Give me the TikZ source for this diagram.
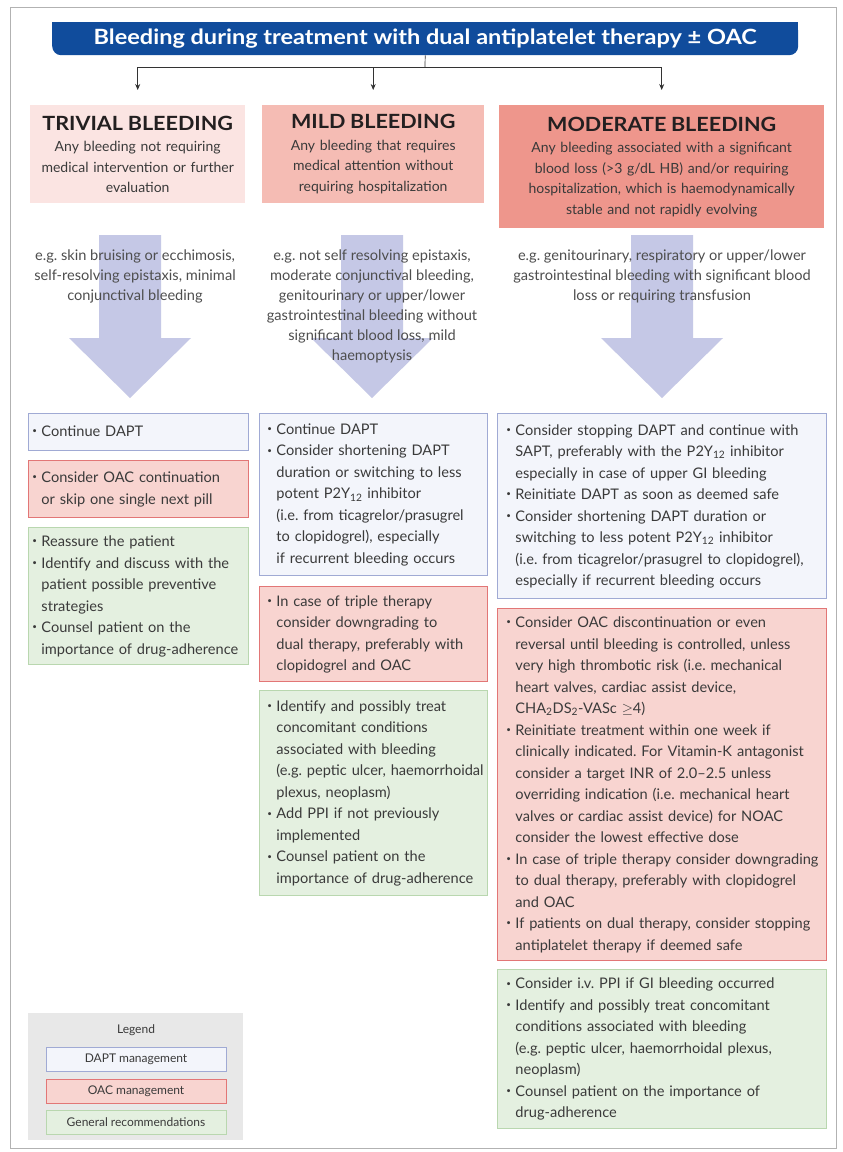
\documentclass[tikz,border=0pt]{standalone}
\usepackage{fontspec}
\setmainfont{Lato}
\newfontfamily\widefont[FakeStretch=1.12]{Lato}
\newfontfamily\hdrfont[FakeStretch=1.10]{Lato}
\usetikzlibrary{arrows.meta}
\definecolor{titleblue}{RGB}{16,76,156}
\definecolor{hdrA}{RGB}{251,228,226}
\definecolor{hdrB}{RGB}{245,188,180}
\definecolor{hdrC}{RGB}{238,150,140}
\definecolor{bigarrow}{RGB}{197,200,230}
\definecolor{daptfill}{RGB}{243,245,251}
\definecolor{daptdraw}{RGB}{160,170,212}
\definecolor{oacfill}{RGB}{248,212,208}
\definecolor{oacdraw}{RGB}{226,118,118}
\definecolor{genfill}{RGB}{228,240,224}
\definecolor{gendraw}{RGB}{185,215,175}
\definecolor{legbg}{RGB}{232,232,232}
\definecolor{txt}{RGB}{58,58,58}
\definecolor{hdrtitle}{RGB}{35,31,32}
\newcommand{\bu}{\makebox[9pt][l]{\raisebox{0.35ex}{\fontsize{8}{8}\selectfont\textbullet}}}
\newcommand{\hind}{\hspace*{9pt}}
\newcommand{\Ptwo}{P2Y\textsubscript{12}}
\newcommand{\blines}[1]{\begin{tabular}{@{}l@{}}#1\end{tabular}}
\frenchspacing
\begin{document}
\begin{tikzpicture}[x=1pt,y=-1pt,
  boxbase/.style={rectangle, anchor=north west, align=left, text=txt, line width=0.9pt,
     font=\fontsize{14.6}{21.5}\selectfont, inner ysep=4pt},
  daptbox/.style={boxbase, draw=daptdraw, fill=daptfill},
  oacbox/.style={boxbase, draw=oacdraw, fill=oacfill},
  genbox/.style={boxbase, draw=gendraw, fill=genfill},
  colA/.style={inner xsep=4pt, text width=212pt},
  colB/.style={inner xsep=8pt, text width=212pt},
  colC/.style={inner xsep=9pt, text width=311pt},
  hdr/.style={rectangle, anchor=north west, align=center, text=txt, inner xsep=1pt,
     font=\fontsize{14}{20.5}\selectfont},
  example/.style={anchor=north, align=center, text=txt!90, font=\fontsize{14.6}{20}\selectfont},
  conn/.style={draw=black!80, line width=0.7pt},
  connarr/.style={conn, -{Stealth[length=6pt,width=5pt]}},
  legsmall/.style={rectangle, minimum width=180pt, minimum height=24pt, line width=0.8pt,
     text=txt, font=\fontsize{12}{14}\selectfont}
]
\useasboundingbox (0,0) rectangle (843,1152);
\fill[white] (0,0) rectangle (843,1152);
\draw[black!30, line width=1pt] (10,7) rectangle (836,1148);

% title bar
\fill[titleblue] (52,22) rectangle (798,40);
\node[rectangle, rounded corners=9pt, fill=titleblue, minimum width=746pt, minimum height=33pt,
  anchor=north west, text=white, font=\widefont\fontsize{21}{24}\selectfont\bfseries] (title) at (52,22)
  {Bleeding during treatment with dual antiplatelet therapy ± OAC};

% headers
\node[hdr, fill=hdrA, text width=213pt, minimum height=98pt] (h1) at (30,105)
  {{\hdrfont\fontsize{19.6}{22}\selectfont\bfseries\color{hdrtitle}TRIVIAL BLEEDING}\\[1pt]
   Any bleeding not requiring\\ medical intervention or further\\ evaluation};
\node[hdr, fill=hdrB, text width=220pt, minimum height=98pt] (h2) at (262,105)
  {{\hdrfont\fontsize{19.6}{22}\selectfont\bfseries\color{hdrtitle}MILD BLEEDING}\\[1pt]
   Any bleeding that requires\\ medical attention without\\ requiring hospitalization\\[4pt]};
\node[hdr, fill=hdrC, text width=323pt, minimum height=123pt] (h3) at (499,105)
  {{\hdrfont\fontsize{19.6}{22}\selectfont\bfseries\color{hdrtitle}MODERATE BLEEDING}\\[1pt]
   Any bleeding associated with a significant\\ blood loss (>3 g/dL HB) and/or requiring\\
   hospitalization, which is haemodynamically\\ stable and not rapidly evolving};

% connectors
\coordinate (jn) at (425,67);
\draw[conn] (title.south) -- (jn);
\draw[conn] (h1.north |- jn) -- (h3.north |- jn);
\draw[connarr] (h1.north |- jn) -- ([yshift=15pt]h1.north);
\draw[connarr] (h2.north |- jn) -- ([yshift=15pt]h2.north);
\draw[connarr] (h3.north |- jn) -- ([yshift=15pt]h3.north);

% big arrows
\foreach \cx in {130,372,662}{
  \fill[bigarrow] (\cx-31,235) -- (\cx+31,235) -- (\cx+31,338) -- (\cx+61,338)
     -- (\cx,398) -- (\cx-61,338) -- (\cx-31,338) -- cycle;
}

% examples
\node[example] (e1) at (135,246) {e.g. skin bruising or ecchimosis,\\ self-resolving epistaxis, minimal\\ conjunctival bleeding};
\node[example] (e2) at (372,246) {e.g. not self resolving epistaxis,\\ moderate conjunctival bleeding,\\ genitourinary or upper/lower\\ gastrointestinal bleeding without\\ significant blood loss, mild\\ haemoptysis};
\node[example] (e3) at (662,246) {e.g. genitourinary, respiratory or upper/lower\\ gastrointestinal bleeding with significant blood\\ loss or requiring transfusion};

% column 1
\node[daptbox, colA, minimum height=37pt] (d1) at (28,413) {\blines{\bu Continue DAPT}};
\node[oacbox, colA, minimum height=57pt] (o1) at (28,460)
  {\blines{\bu Consider OAC continuation\\ \hind or skip one single next pill}};
\node[genbox, colA, minimum height=136pt] (g1) at (28,527)
  {\blines{\bu Reassure the patient\\
   \bu Identify and discuss with the\\
   \hind patient possible preventive\\
   \hind strategies\\
   \bu Counsel patient on the\\
   \hind importance of drug-adherence}};

% column 2
\node[daptbox, colB, minimum height=162pt] (d2) at (259,413)
  {\blines{\bu Continue DAPT\\
   \bu Consider shortening DAPT\\
   \hind duration or switching to less\\
   \hind potent \Ptwo{} inhibitor\\
   \hind (i.e. from ticagrelor/prasugrel\\
   \hind to clopidogrel), especially\\
   \hind if recurrent bleeding occurs}};
\node[oacbox, colB, minimum height=95pt] (o2) at (259,586)
  {\blines{\bu In case of triple therapy\\
   \hind consider downgrading to\\
   \hind dual therapy, preferably with\\
   \hind clopidogrel and OAC}};
\node[genbox, colB, minimum height=205pt] (g2) at (259,690)
  {\blines{\bu Identify and possibly treat\\
   \hind concomitant conditions\\
   \hind associated with bleeding\\
   \hind (e.g. peptic ulcer, haemorrhoidal\\
   \hind plexus, neoplasm)\\
   \bu Add PPI if not previously\\
   \hind implemented\\
   \bu Counsel patient on the\\
   \hind importance of drug-adherence}};

% column 3
\node[daptbox, colC, minimum height=185pt] (d3) at (497,413)
  {\blines{\bu Consider stopping DAPT and continue with\\
   \hind SAPT, preferably with the \Ptwo{} inhibitor\\
   \hind especially in case of upper GI bleeding\\
   \bu Reinitiate DAPT as soon as deemed safe\\
   \bu Consider shortening DAPT duration or\\
   \hind switching to less potent \Ptwo{} inhibitor\\
   \hind (i.e. from ticagrelor/prasugrel to clopidogrel),\\
   \hind especially if recurrent bleeding occurs}};
\node[oacbox, colC, minimum height=352pt] (o3) at (497,608)
  {\blines{\bu Consider OAC discontinuation or even\\
   \hind reversal until bleeding is controlled, unless\\
   \hind very high thrombotic risk (i.e. mechanical\\
   \hind heart valves, cardiac assist device,\\
   \hind CHA\textsubscript{2}DS\textsubscript{2}-VASc $\geq$4)\\
   \bu Reinitiate treatment within one week if\\
   \hind clinically indicated. For Vitamin-K antagonist\\
   \hind consider a target INR of 2.0--2.5 unless\\
   \hind overriding indication (i.e. mechanical heart\\
   \hind valves or cardiac assist device) for NOAC\\
   \hind consider the lowest effective dose\\
   \bu In case of triple therapy consider downgrading\\
   \hind to dual therapy, preferably with clopidogrel\\
   \hind and OAC\\
   \bu If patients on dual therapy, consider stopping\\
   \hind antiplatelet therapy if deemed safe}};
\node[genbox, colC, minimum height=159pt] (g3) at (497,969)
  {\blines{\bu Consider i.v. PPI if GI bleeding occurred\\
   \bu Identify and possibly treat concomitant\\
   \hind conditions associated with bleeding\\
   \hind (e.g. peptic ulcer, haemorrhoidal plexus,\\
   \hind neoplasm)\\
   \bu Counsel patient on the importance of\\
   \hind drug-adherence}};

% legend
\node[rectangle, fill=legbg, minimum width=215pt, minimum height=127pt, anchor=north west] (lg) at (28,1013) {};
\node[text=txt, font=\fontsize{12}{14}\selectfont] (lgt) at (136,1030) {Legend};
\node[legsmall, draw=daptdraw, fill=daptfill] (ld) at (136,1059) {DAPT management};
\node[legsmall, draw=oacdraw, fill=oacfill] (lo) at (136,1091) {OAC management};
\node[legsmall, draw=gendraw, fill=genfill] (lgn) at (136,1122.5) {General recommendations};
\end{tikzpicture}
\end{document}
